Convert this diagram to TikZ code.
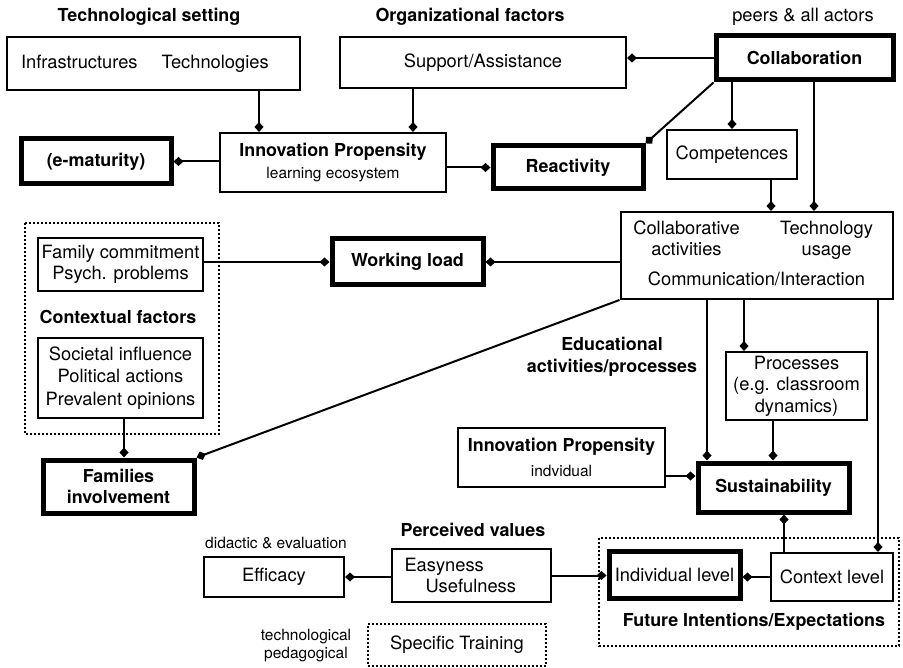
\documentclass[tikz,border=0pt]{standalone}
\usepackage{fontspec}
\setmainfont{TeX Gyre Heros}
\usepackage{array}
\usepackage{tikz}
\usetikzlibrary{arrows.meta}

\begin{document}
\begin{tikzpicture}[
  x=1pt, y=-1pt,
  txt/.style={align=center, font=\fontsize{18.3}{21.5}\selectfont},
  small/.style={align=center, font=\fontsize{15.5}{18}\selectfont},
  head/.style={align=center, font=\fontsize{17.9}{21.5}\selectfont\bfseries},
  box/.style={txt, rectangle, draw=black, line width=2pt, inner sep=2pt},
  keybox/.style={box, line width=5pt, font=\fontsize{17.9}{21.5}\selectfont\bfseries},
  frame/.style={draw=black, line width=2pt, dotted},
  arr/.style={-{Diamond[length=10pt, width=9pt]}, line width=2pt}
]
\useasboundingbox (0,0) rectangle (903,668);

\node[head] (techhead) at (149,17) {Technological setting};
\node[head] (orghead) at (470,17) {Organizational factors};
\node[txt] (peers) at (803,17) {peers \& all actors};

\node[box, minimum width=293pt, minimum height=53pt, align=left, text width=265pt] (infra) at (153.5,63.5) {Infrastructures\hspace{24pt}Technologies};
\node[box, minimum width=286pt, minimum height=51pt] (support) at (483,62.5) {Support/Assistance};
\node[keybox, minimum width=177pt, minimum height=44pt] (collab) at (804.5,58) {Collaboration};
\node[box, minimum width=226pt, minimum height=59pt] (ipe) at (333,162.5) {{\bfseries\fontsize{17.9}{21.5}\selectfont Innovation Propensity}\\[1pt]{\fontsize{15.5}{18}\selectfont learning ecosystem}};
\node[keybox, minimum width=150pt, minimum height=45pt] (emat) at (96,161.5) {(e-maturity)};
\node[keybox, minimum width=150pt, minimum height=43pt] (react) at (568,167.5) {Reactivity};
\node[box, minimum width=130pt, minimum height=49pt] (compet) at (732,154.5) {Competences};
\node[box, minimum width=263pt, minimum height=87pt] (activ) at (756.5,255.5) {%
  \begin{tabular}{@{}>{\centering}p{128pt}>{\centering\arraybackslash}p{128pt}@{}}
  Collaborative & Technology\\
  activities & usage\\[8pt]
  \multicolumn{2}{c}{Communication/Interaction}
  \end{tabular}};

\draw[frame] (25,223) rectangle (219,434);
\node[box, minimum width=165pt, minimum height=53pt] (family) at (120.5,264.5) {Family commitment\\Psych. problems};
\node[head] (ctxhead) at (118,317) {Contextual factors};
\node[box, minimum width=165pt, minimum height=80pt] (societal) at (120.5,378) {Societal influence\\[1pt]Political actions\\[1pt]Prevalent opinions};
\node[keybox, minimum width=151pt, minimum height=46pt] (workload) at (407.5,262) {Working load};
\node[keybox, minimum width=151pt, minimum height=53pt] (families) at (118.5,486.5) {Families\\involvement};

\node[head] (eduhead) at (612,357) {Educational\\activities/processes};
\node[box, minimum width=141pt, minimum height=68pt] (proc) at (796.5,386) {Processes\\(e.g. classroom\\dynamics)};
\node[box, minimum width=207pt, minimum height=59pt] (ipind) at (561.5,457.5) {{\bfseries\fontsize{17.9}{21.5}\selectfont Innovation Propensity}\\[4pt]{\fontsize{15.5}{18}\selectfont indvidual}};
\node[keybox, minimum width=151pt, minimum height=49pt] (sustain) at (773.5,487.5) {Sustainability};

\node[head] (valhead) at (473,530) {Perceived values};
\node[small] (effnote) at (276,543) {didactic \& evaluation};
\node[box, minimum width=140pt, minimum height=40pt] (efficacy) at (274,577) {Efficacy};
\node[box, minimum width=159pt, minimum height=53pt, align=left, text width=134pt] (easy) at (471.5,575.5) {Easyness\\\hspace*{21pt}Usefulness};
\node[box, dotted, minimum width=178pt, minimum height=42pt] (training) at (457,645) {Specific Training};
\node[small] (trainnote) at (306,646) {technological\\pedagogical};

\draw[frame] (599,538) rectangle (899,646);
\node[keybox, txt, minimum width=131pt, minimum height=47pt] (indiv) at (674.5,574.5) {Individual level};
\node[box, minimum width=122pt, minimum height=48pt] (context) at (832,577) {Context level};
\node[head] (futhead) at (754,622) {Future Intentions/Expectations};

\draw[arr] (infra.south -| 259,0) -- (ipe.north -| 259,0);
\draw[arr] (support.south -| 413,0) -- (ipe.north -| 413,0);
\draw[arr] (ipe.east |- react.west) -- (react.west);
\draw[arr] (ipe.west |- emat.east) -- (emat.east);
\draw[arr] (collab.west) -- (support.east |- collab.west);
\draw[arr] (collab.south west) -- (react.north east);
\draw[arr] (collab.south -| 732,0) -- (compet.north -| 732,0);
\draw[arr] (collab.south -| 814,0) -- (activ.north -| 814,0);
\draw[arr] (compet.south -| 771,0) -- (activ.north -| 771,0);
\draw[arr] (activ.west |- workload.east) -- (workload.east);
\draw[arr] (family.east |- workload.west) -- (workload.west);
\draw[arr] (societal.south -| 124,0) -- (families.north -| 124,0);
\draw[arr] (activ.south west) -- (families.north east);
\draw[arr] (activ.south -| 744,0) -- (proc.north -| 744,0);
\draw[arr] (activ.south -| 707,0) -- (sustain.north -| 707,0);
\draw[arr] (proc.south -| 773,0) -- (sustain.north -| 773,0);
\draw[arr] (activ.south -| 878,0) -- (context.north -| 878,0);
\draw[arr] (ipind.east |- 0,476) -- (sustain.west |- 0,476);
\draw[arr] (context.north -| 784,0) -- (sustain.south -| 784,0);
\draw[arr] (context.west) -- (indiv.east |- context.west);
\draw[arr] (easy.east) -- (indiv.west |- easy.east);
\draw[arr] (easy.west |- efficacy.east) -- (efficacy.east);
\end{tikzpicture}
\end{document}
